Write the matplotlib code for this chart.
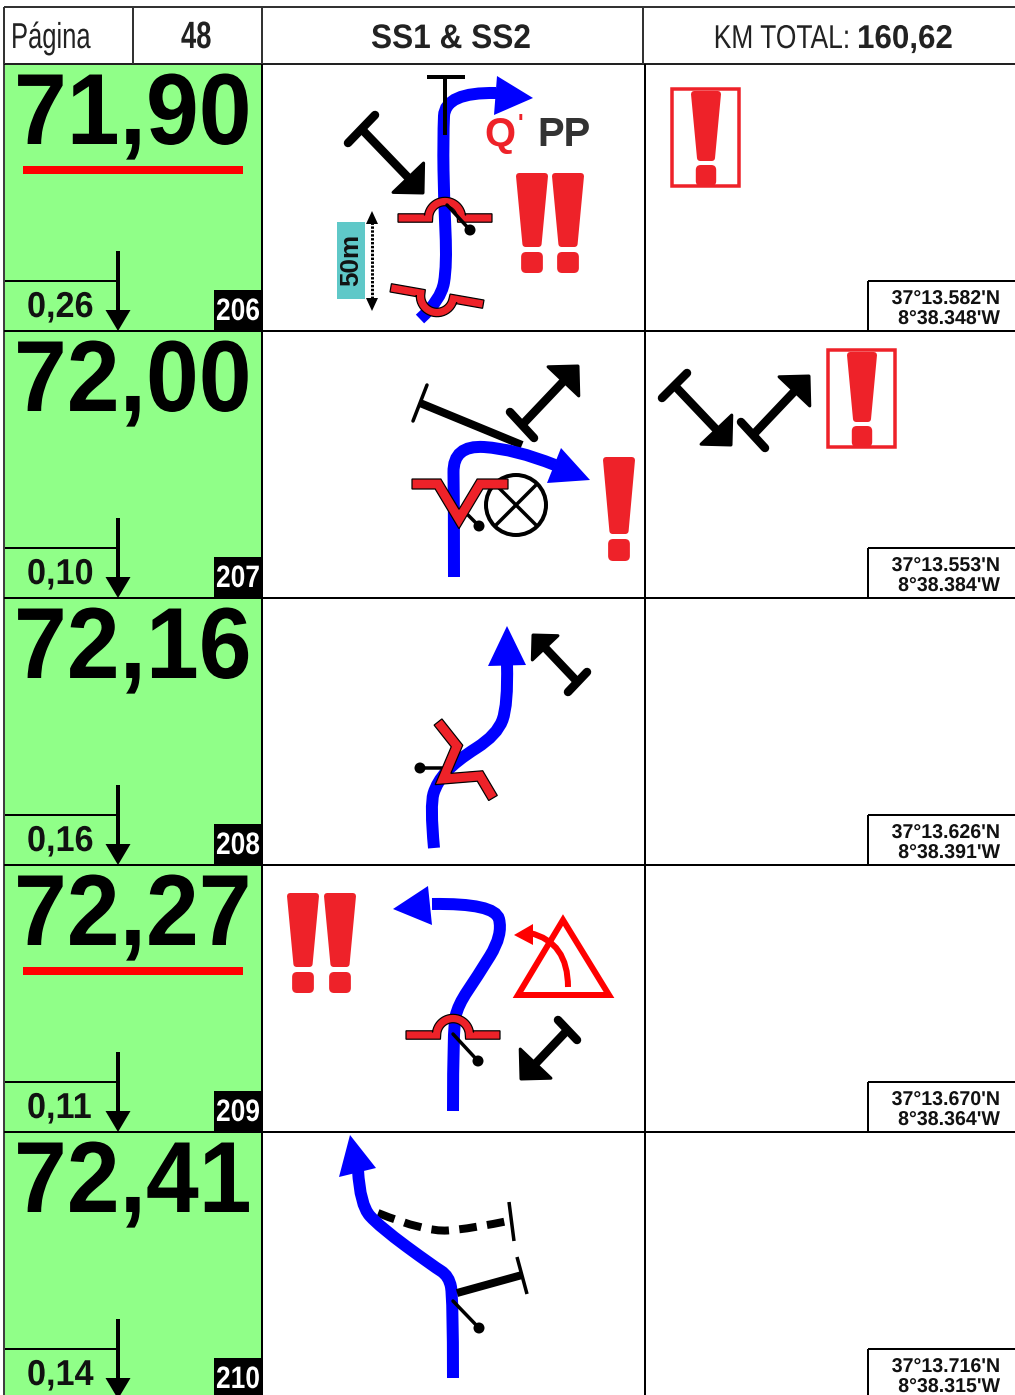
#!/usr/bin/env python3
# Roadbook page 48 - drawn in pixel coordinates of the 1015x1395 page

import numpy as np
import matplotlib
matplotlib.use("Agg")
import matplotlib.pyplot as plt
from matplotlib.patches import Polygon, Rectangle, FancyBboxPatch, Circle, PathPatch
from matplotlib.path import Path
from matplotlib.patheffects import AbstractPathEffect
from matplotlib.transforms import Affine2D

plt.rcParams["font.family"] = ["Liberation Sans", "DejaVu Sans"]

# ----------------------- Inputs -----------------------
page_label = "Página"
page_number = "48"
stage_name = "SS1 & SS2"
km_label = "KM TOTAL:"
km_total = "160,62"

totals = ["71,90", "72,00", "72,16", "72,27", "72,41"]
partials = ["0,26", "0,10", "0,16", "0,11", "0,14"]
box_numbers = ["206", "207", "208", "209", "210"]
underlined = [True, False, False, True, False]
lats = ["37°13.582'N", "37°13.553'N", "37°13.626'N", "37°13.670'N", "37°13.716'N"]
lons = ["8°38.348'W", "8°38.384'W", "8°38.391'W", "8°38.364'W", "8°38.315'W"]
row_tops = [64, 331, 598, 865, 1132]
ROW_H = 267

BLUE = "#0000ff"
RED = "#ee2229"
PURE_RED = "#ff0000"
GREEN = "#90ff88"
TEAL = "#5fc8c8"

fig = plt.figure(figsize=(10.15, 13.95), dpi=100)
ax = fig.add_axes([0, 0, 1, 1])
ax.set_xlim(0, 1015)
ax.set_ylim(1395, 0)
ax.axis("off")


def px(v):
    return v * 0.72


class Squeeze(AbstractPathEffect):
    # narrows a text around its anchor, the page uses a condensed face
    def __init__(self, x0, sx):
        self.x0, self.sx = x0, sx

    def draw_path(self, renderer, gc, tpath, affine, rgbFace=None):
        sq = Affine2D().translate(-self.x0, 0).scale(self.sx, 1).translate(self.x0, 0)
        renderer.draw_path(gc, tpath, affine + sq, rgbFace)


def txt(x, y, s, size, sx=1.0, bold=True, color="black", ha="left", va="baseline", z=6, **kw):
    t = ax.text(x, y, s, fontsize=px(size), fontweight="bold" if bold else "normal",
                color=color, ha=ha, va=va, zorder=z, **kw)
    if sx != 1.0:
        t.set_path_effects([Squeeze(x, sx)])
    return t


def hline(x0, x1, y, w=2, c="black", z=5):
    ax.plot([x0, x1], [y, y], color=c, lw=px(w), solid_capstyle="butt", zorder=z)


def vline(x, y0, y1, w=2, c="black", z=5):
    ax.plot([x, x], [y0, y1], color=c, lw=px(w), solid_capstyle="butt", zorder=z)


def smooth_path(pts):
    # quadratic spline: knots are control points, joined at their midpoints
    pts = np.asarray(pts, float)
    verts = [pts[0]]
    codes = [Path.MOVETO]
    for i in range(1, len(pts) - 1):
        end = pts[i + 1] if i == len(pts) - 2 else (pts[i] + pts[i + 1]) / 2
        verts += [pts[i], end]
        codes += [Path.CURVE3, Path.CURVE3]
    return Path(verts, codes)


def route(pts, base_a, base_b, tip, w=12, c=BLUE, z=2):
    ax.add_patch(PathPatch(smooth_path(pts), fc="none", ec=c, lw=px(w), capstyle="butt", zorder=z))
    ax.add_patch(Polygon([base_a, tip, base_b], closed=True, fc=c, ec="none", zorder=z))


def tee(bar_a, bar_b, tip, leg=30, w=8.5):
    # road exit symbol: cross bar, shaft, and a corner arrow head
    bar_a, bar_b, tip = map(lambda p: np.asarray(p, float), (bar_a, bar_b, tip))
    mid = (bar_a + bar_b) / 2
    d = (tip - mid) / np.linalg.norm(tip - mid)
    ax.plot(*zip(bar_a, bar_b), color="black", lw=px(w), solid_capstyle="round", zorder=3)
    ax.plot(*zip(mid, tip - d * 15), color="black", lw=px(w), solid_capstyle="butt", zorder=3)
    c, s = np.cos(np.pi / 4), np.sin(np.pi / 4)
    l1 = tip - leg * np.array([c * d[0] - s * d[1], s * d[0] + c * d[1]])
    l2 = tip - leg * np.array([c * d[0] + s * d[1], -s * d[0] + c * d[1]])
    ax.add_patch(Polygon([tip, l1, l2], closed=True, fc="black", ec="black",
                         lw=px(3), joinstyle="round", zorder=3))


def tick(a, b):
    ax.plot(*zip(a, b), color="black", lw=px(3.5), solid_capstyle="round", zorder=4)
    ax.add_patch(Circle(b, 5.5, fc="black", ec="none", zorder=4))


def ribbon(center, half):
    # outline of a polyline with the given half thickness (mitred corners)
    p = np.asarray(center, float)
    seg = np.diff(p, axis=0)
    seg /= np.linalg.norm(seg, axis=1, keepdims=True)
    nrm = np.column_stack([-seg[:, 1], seg[:, 0]])
    off = np.zeros_like(p)
    off[0], off[-1] = nrm[0], nrm[-1]
    for i in range(1, len(p) - 1):
        m = nrm[i - 1] + nrm[i]
        m /= np.linalg.norm(m)
        off[i] = m / np.dot(m, nrm[i])
    return np.vstack([p + off * half, (p - off * half)[::-1]])


def red_shape(center, half=5.0, z=4):
    ax.add_patch(Polygon(ribbon(center, half), closed=True, fc=RED, ec="black",
                         lw=px(1.2), joinstyle="miter", zorder=z))


def bridge(cx, cy, half=47, r=16.5, angle=0):
    th = np.radians(np.linspace(180, 0, 25))
    arc = np.column_stack([r * np.cos(th), -r * np.sin(th)])
    local = np.vstack([[-half, 0], [-r - 5, 0], arc, [r + 5, 0], [half, 0]])
    a = np.radians(angle)
    rot = np.array([[np.cos(a), -np.sin(a)], [np.sin(a), np.cos(a)]])
    red_shape(local @ rot.T + [cx, cy], half=4.2)


def excl(x, top, w=32, bar_h=74, gap=5, dot_h=21):
    cx = x + w / 2
    ax.add_patch(Polygon([(x + 3, top + 3), (x + w - 3, top + 3),
                          (cx + w * 0.3 - 3, top + bar_h - 3), (cx - w * 0.3 + 3, top + bar_h - 3)],
                         closed=True, fc=RED, ec=RED, lw=px(6), joinstyle="round", zorder=4))
    dw = w * 0.68
    ax.add_patch(FancyBboxPatch((cx - dw / 2 + 5, top + bar_h + gap + 5), dw - 10, dot_h - 10,
                                boxstyle="round,pad=5", fc=RED, ec="none", zorder=4))


# ---------------- Header ----------------
hline(4, 1015, 7, c="#333333")
hline(4, 1015, 64, c="#222222")
for x in (4, 133, 262, 643):
    vline(x, 7, 64, c="#333333")
txt(11, 48, page_label, 36, sx=0.71, bold=False, color="#222222")
txt(181, 48, page_number, 38, sx=0.72, color="#222222")
txt(371, 48, stage_name, 34, sx=0.93, color="#222222")
txt(850, 48, km_label, 33, sx=0.80, bold=False, color="#222222", ha="right")
txt(857, 48, km_total, 33, sx=0.95, color="#222222")

# ---------------- Rows ----------------
vline(4.5, 64, 1395, w=1.5)
vline(262.5, 64, 1395)
vline(645, 64, 1395)
for i, top in enumerate(row_tops):
    ax.add_patch(Rectangle((5, top), 257, ROW_H, fc=GREEN, ec="none", zorder=1))
    hline(4, 1015, top + ROW_H)
    txt(14, top + 80, totals[i], 101, sx=0.94)
    if underlined[i]:
        ax.add_patch(Rectangle((23, top + 102), 220, 8, fc=PURE_RED, ec="none", zorder=3))
    # partial distance
    hline(5, 118, top + 217)
    vline(118, top + 187, top + 250, w=4)
    ax.add_patch(Polygon([(105.5, top + 246), (130.5, top + 246), (118, top + 267)],
                         closed=True, fc="black", ec="none", zorder=5))
    txt(27, top + 253, partials[i], 36, sx=0.95, color="#111111")
    # road book box number
    ax.add_patch(Rectangle((214, top + 226), 48, 41, fc="black", ec="none", zorder=5))
    txt(238, top + 256, box_numbers[i], 31, sx=0.85, color="white", ha="center")
    # coordinates box
    hline(868, 1015, top + 217)
    vline(868, top + 217, top + 267)
    txt(1000, top + 240, lats[i], 20, sx=0.98, ha="right", color="#111111")
    txt(1000, top + 260, lons[i], 20, sx=0.98, ha="right", color="#111111")

# ---------------- Row 206 ----------------
hline(427, 465, 77, w=4)
vline(445, 77, 135, w=4)
route([(420, 319), (441, 300), (447, 265), (444, 200), (443, 140), (445, 92), (496, 93)],
      (497, 76), (494, 115), (533, 98))
tee((348, 143), (375, 115), (423, 193))
bridge(445, 218)
tick((447, 205), (470, 230))
bridge(437, 296, angle=190)
ax.add_patch(Rectangle((337, 222), 28, 77, fc=TEAL, ec="none", zorder=2))
txt(351, 260, "50m", 26, rotation=90, ha="center", va="center", color="#111111")
ax.plot([372, 372], [222, 300], color="black", lw=px(3), ls=(0, (0.8, 0.5)), zorder=3)
ax.add_patch(Polygon([(366, 224), (378, 224), (372, 211)], closed=True, fc="black", zorder=3))
ax.add_patch(Polygon([(366, 298), (378, 298), (372, 311)], closed=True, fc="black", zorder=3))
txt(484, 146, "Q", 40, color=RED)
txt(518, 131, "'", 24, color=RED)
txt(537, 146, "PP", 40, color="#333333")
excl(516, 173)
excl(552, 173)
ax.add_patch(Rectangle((672.5, 88.5), 67, 97, fc="none", ec=RED, lw=px(3.5), zorder=3))
excl(691, 91, w=30, bar_h=70, gap=4, dot_h=21)

# ---------------- Row 207 ----------------
ax.plot([427, 413], [385, 421], color="black", lw=px(3.5), solid_capstyle="round", zorder=1)
ax.plot([420, 522], [403, 445], color="black", lw=px(8), solid_capstyle="butt", zorder=1)
tee((510, 412), (534, 438), (578, 366))
route([(454, 577), (454, 500), (453, 445), (515, 449), (555, 465)],
      (561, 448), (547, 483), (590, 480))
ax.add_patch(Circle((516, 505), 30, fc="none", ec="black", lw=px(4), zorder=3))
for a, b in [((495, 484), (537, 526)), ((537, 484), (495, 526))]:
    ax.plot(*zip(a, b), color="black", lw=px(3.5), solid_capstyle="butt", zorder=3)
tick((465, 512), (479, 526))
red_shape([(412, 484), (438, 484), (459, 519), (480, 484), (508, 484)], z=5)
excl(603, 457, bar_h=77, gap=5, dot_h=22)
tee((662, 398), (687, 373), (731, 445))
tee((741, 422), (765, 448), (809, 376))
ax.add_patch(Rectangle((828.5, 349.5), 67, 97, fc="none", ec=RED, lw=px(3.5), zorder=3))
excl(847, 352, w=30, bar_h=70, gap=4, dot_h=21)

# ---------------- Row 208 ----------------
route([(434, 848), (430, 805), (437, 782), (456, 761), (497, 735), (508, 705), (507, 664)],
      (488, 666), (526, 665), (507, 626))
tee((568, 692), (587, 672), (533, 635), leg=25)
tick((450, 768), (420, 768))
red_shape([(438, 722), (457, 746), (443, 779), (480, 776), (493, 798)])

# ---------------- Row 209 ----------------
excl(287, 893)
excl(324, 893)
route([(453, 1111), (453, 1028), (458, 1005), (477, 977), (503, 935), (495, 903), (432, 904)],
      (428, 886), (432, 925), (393, 909))
bridge(453, 1035)
tick((453, 1034), (478, 1061))
tee((558, 1020), (577, 1040), (521, 1079))
ax.add_patch(Polygon([(563, 920), (609, 995), (518, 995)], closed=True, fc="none",
                     ec=PURE_RED, lw=px(6), joinstyle="miter", zorder=3))
ax.add_patch(PathPatch(smooth_path([(568, 987), (568, 942), (530, 933)]), fc="none",
                       ec=PURE_RED, lw=px(6), capstyle="butt", zorder=3))
ax.add_patch(Polygon([(533, 924), (533, 945), (514, 935)], closed=True, fc=PURE_RED, ec="none", zorder=3))

# ---------------- Row 210 ----------------
ax.plot(*zip((509, 1202), (514, 1241)), color="black", lw=px(3.5), solid_capstyle="butt", zorder=3)
ax.add_patch(PathPatch(smooth_path([(378, 1213), (425, 1232), (470, 1229), (513, 1220)]), fc="none",
                       ec="black", lw=px(8), ls=(0, (2.2, 1.3)), capstyle="butt", zorder=1))
ax.plot(*zip((457, 1293), (522, 1275)), color="black", lw=px(8), solid_capstyle="butt", zorder=3)
ax.plot(*zip((517, 1257), (527, 1294)), color="black", lw=px(3.5), solid_capstyle="butt", zorder=3)
route([(453, 1378), (453, 1298), (449, 1276), (433, 1266), (380, 1227), (360, 1205), (358, 1170)],
      (339, 1177), (376, 1168), (350, 1135))
tick((453, 1301), (479, 1328))

fig.savefig("out.png", dpi=100, facecolor="white")
